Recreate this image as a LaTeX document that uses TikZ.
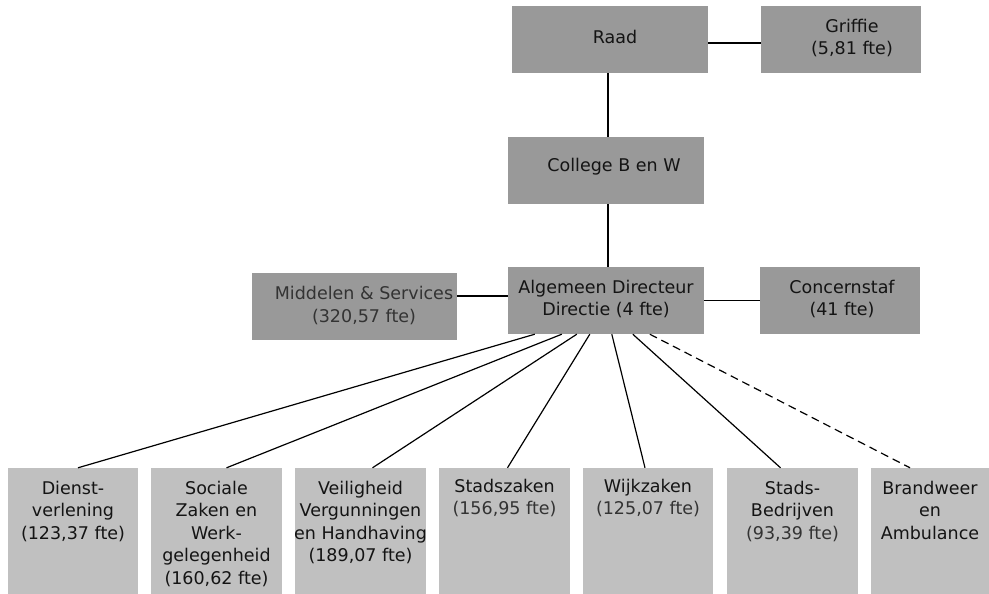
\documentclass[tikz,border=0pt]{standalone}
\usepackage{fontspec}
\setmainfont{DejaVu Sans}
\usetikzlibrary{calc}
\definecolor{topgray}{HTML}{999999}
\definecolor{botgray}{HTML}{C0C0C0}
\definecolor{ink}{HTML}{141414}
\definecolor{inklight}{HTML}{333333}
\tikzset{
  topbox/.style={rectangle, fill=topgray, inner sep=0pt, minimum height=67pt},
  botbox/.style={rectangle, fill=botgray, inner sep=0pt, minimum height=126pt},
  lbl/.style={inner sep=0pt, align=center, text=ink, font=\fontsize{17.5}{22.5}\selectfont},
  toplbl/.style={lbl, anchor=north},
  conn/.style={draw=black, line width=1.2pt},
  dashconn/.style={conn, dash pattern=on 8pt off 5pt},
}
\begin{document}
\begin{tikzpicture}[x=1pt,y=-1pt]
\useasboundingbox (0,0) rectangle (989,594);
% top boxes
\node[topbox, minimum width=196pt] (raad) at (610,39.5) {};
\node[topbox, minimum width=160pt] (griffie) at (841,39.5) {};
\node[topbox, minimum width=196pt] (college) at (606,170.5) {};
\node[topbox, minimum width=196pt] (alg) at (606,300.5) {};
\node[topbox, minimum width=205pt] (mid) at (354.5,306.5) {};
\node[topbox, minimum width=160pt] (concern) at (840,300.5) {};
% bottom boxes
\node[botbox, minimum width=130pt] (dienst) at (73,531) {};
\node[botbox, minimum width=131pt] (sociale) at (216.5,531) {};
\node[botbox, minimum width=131pt] (veilig) at (360.5,531) {};
\node[botbox, minimum width=131pt] (stadsz) at (504.5,531) {};
\node[botbox, minimum width=130pt] (wijk) at (648,531) {};
\node[botbox, minimum width=131pt] (sb) at (792.5,531) {};
\node[botbox, minimum width=118pt] (brand) at (930,531) {};
% top labels
\node[lbl] (raad-t) at (615,37) {Raad};
\node[lbl] (griffie-t) at (852,38) {Griffie\\(5,81 fte)};
\node[lbl] (college-t) at (614,166.5) {College B en W};
\node[lbl] (alg-t) at (606,299) {Algemeen Directeur\\Directie (4 fte)};
\node[lbl] (mid-t) at (364,305.5) {\textcolor{inklight}{Middelen \& Services}\\\textcolor{inklight}{(320,57 fte)}};
\node[lbl] (concern-t) at (842,299) {Concernstaf\\(41 fte)};
% bottom labels
\node[toplbl] (dienst-t) at ($(dienst.north)+(0,13)$) {Dienst-\\verlening\\(123,37 fte)};
\node[toplbl] (sociale-t) at ($(sociale.north)+(0,13)$) {Sociale\\Zaken en\\Werk-\\gelegenheid\\(160,62 fte)};
\node[toplbl] (veilig-t) at ($(veilig.north)+(0,13)$) {Veiligheid\\Vergunningen\\en Handhaving\\(189,07 fte)};
\node[toplbl] (stadsz-t) at ($(stadsz.north)+(0,11)$) {Stadszaken\\\textcolor{inklight}{(156,95 fte)}};
\node[toplbl] (wijk-t) at ($(wijk.north)+(0,11)$) {Wijkzaken\\\textcolor{inklight}{(125,07 fte)}};
\node[toplbl] (sb-t) at ($(sb.north)+(0,13)$) {Stads-\\Bedrijven\\\textcolor{inklight}{(93,39 fte)}};
\node[toplbl] (brand-t) at ($(brand.north)+(0,13)$) {Brandweer\\en\\Ambulance};
% connectors
\coordinate (rg) at ($(raad.east)+(0,3.5)$);
\draw[conn] (rg) -- (rg -| griffie.west);
\draw[conn] ($(raad.south)+(-2,0)$) -- ($(college.north)+(2,0)$);
\draw[conn] ($(college.south)+(2,0)$) -- ($(alg.north)+(2,0)$);
\coordinate (am) at ($(alg.west)+(0,-4.5)$);
\draw[conn] (am) -- (am -| mid.east);
\draw[conn] (alg.east) -- (concern.west);
\draw[conn] ($(alg.south west)+(27,0)$) -- ($(dienst.north)+(5,0)$);
\draw[conn] ($(alg.south west)+(54,0)$) -- ($(sociale.north)+(10,0)$);
\draw[conn] ($(alg.south west)+(69,0)$) -- ($(veilig.north)+(12,0)$);
\draw[conn] ($(alg.south west)+(82,0)$) -- ($(stadsz.north)+(3,0)$);
\draw[conn] ($(alg.south west)+(104,0)$) -- ($(wijk.north)+(-3,0)$);
\draw[conn] ($(alg.south west)+(125,0)$) -- ($(sb.north)+(-12,0)$);
\draw[dashconn] ($(alg.south west)+(142,0)$) -- ($(brand.north)+(-20,0)$);
\end{tikzpicture}
\end{document}
